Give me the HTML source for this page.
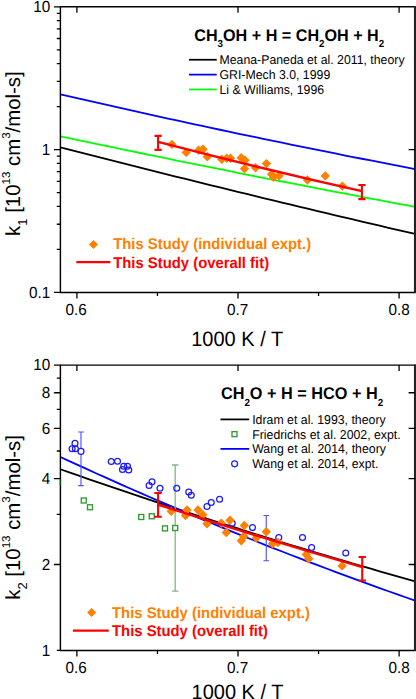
<!DOCTYPE html>
<html><head><meta charset="utf-8"><title>chart</title>
<style>html,body{margin:0;padding:0;background:#fff;}body{width:416px;height:699px;overflow:hidden;font-family:"Liberation Sans",sans-serif;}</style>
</head><body>
<svg width="416" height="699" viewBox="0 0 416 699" style="display:block" text-rendering="geometricPrecision">
<rect width="416" height="699" fill="#fff"/>
<path d="M60.40 94.30L69.27 96.35L78.14 98.39L87.00 100.42L95.87 102.44L104.74 104.45L113.61 106.45L122.47 108.44L131.34 110.43L140.21 112.40L149.08 114.37L157.94 116.32L166.81 118.27L175.68 120.21L184.55 122.13L193.41 124.05L202.28 125.96L211.15 127.86L220.02 129.75L228.88 131.63L237.75 133.51L246.62 135.37L255.49 137.22L264.35 139.07L273.22 140.90L282.09 142.73L290.95 144.55L299.82 146.36L308.69 148.15L317.56 149.94L326.43 151.72L335.29 153.49L344.16 155.26L353.03 157.01L361.89 158.75L370.76 160.49L379.63 162.21L388.50 163.92L397.37 165.63L406.23 167.33L415.10 169.02" stroke="#0000ff" stroke-width="1.8" fill="none"/>
<path d="M60.40 136.30L69.27 138.18L78.14 140.05L87.00 141.92L95.87 143.78L104.74 145.64L113.61 147.49L122.47 149.33L131.34 151.17L140.21 153.00L149.08 154.83L157.94 156.65L166.81 158.46L175.68 160.27L184.55 162.07L193.41 163.87L202.28 165.66L211.15 167.44L220.02 169.22L228.88 170.99L237.75 172.76L246.62 174.52L255.49 176.27L264.35 178.02L273.22 179.76L282.09 181.50L290.95 183.23L299.82 184.95L308.69 186.67L317.56 188.38L326.43 190.09L335.29 191.79L344.16 193.48L353.03 195.17L361.89 196.85L370.76 198.53L379.63 200.20L388.50 201.86L397.37 203.52L406.23 205.17L415.10 206.81" stroke="#00ff00" stroke-width="1.8" fill="none"/>
<path d="M60.40 147.30L69.27 149.58L78.14 151.86L87.00 154.14L95.87 156.40L104.74 158.66L113.61 160.92L122.47 163.16L131.34 165.41L140.21 167.64L149.08 169.87L157.94 172.09L166.81 174.31L175.68 176.52L184.55 178.73L193.41 180.93L202.28 183.12L211.15 185.31L220.02 187.49L228.88 189.66L237.75 191.83L246.62 193.99L255.49 196.15L264.35 198.30L273.22 200.45L282.09 202.58L290.95 204.72L299.82 206.84L308.69 208.96L317.56 211.08L326.43 213.18L335.29 215.28L344.16 217.38L353.03 219.47L361.89 221.55L370.76 223.63L379.63 225.70L388.50 227.77L397.37 229.82L406.23 231.88L415.10 233.92" stroke="#000" stroke-width="1.8" fill="none"/>
<path d="M167.20 144.40L171.90 139.70L176.60 144.40L171.90 149.10Z" fill="#ff8000"/>
<path d="M181.50 152.40L186.20 147.70L190.90 152.40L186.20 157.10Z" fill="#ff8000"/>
<path d="M193.90 150.20L198.60 145.50L203.30 150.20L198.60 154.90Z" fill="#ff8000"/>
<path d="M198.30 149.20L203.00 144.50L207.70 149.20L203.00 153.90Z" fill="#ff8000"/>
<path d="M202.60 156.80L207.30 152.10L212.00 156.80L207.30 161.50Z" fill="#ff8000"/>
<path d="M217.10 159.20L221.80 154.50L226.50 159.20L221.80 163.90Z" fill="#ff8000"/>
<path d="M221.90 158.20L226.60 153.50L231.30 158.20L226.60 162.90Z" fill="#ff8000"/>
<path d="M225.80 158.20L230.50 153.50L235.20 158.20L230.50 162.90Z" fill="#ff8000"/>
<path d="M236.50 157.70L241.20 153.00L245.90 157.70L241.20 162.40Z" fill="#ff8000"/>
<path d="M240.30 160.20L245.00 155.50L249.70 160.20L245.00 164.90Z" fill="#ff8000"/>
<path d="M239.80 168.70L244.50 164.00L249.20 168.70L244.50 173.40Z" fill="#ff8000"/>
<path d="M250.90 167.80L255.60 163.10L260.30 167.80L255.60 172.50Z" fill="#ff8000"/>
<path d="M261.70 163.60L266.40 158.90L271.10 163.60L266.40 168.30Z" fill="#ff8000"/>
<path d="M266.80 174.20L271.50 169.50L276.20 174.20L271.50 178.90Z" fill="#ff8000"/>
<path d="M268.80 177.20L273.50 172.50L278.20 177.20L273.50 181.90Z" fill="#ff8000"/>
<path d="M274.40 175.80L279.10 171.10L283.80 175.80L279.10 180.50Z" fill="#ff8000"/>
<path d="M302.80 180.00L307.50 175.30L312.20 180.00L307.50 184.70Z" fill="#ff8000"/>
<path d="M320.60 175.90L325.30 171.20L330.00 175.90L325.30 180.60Z" fill="#ff8000"/>
<path d="M337.70 186.10L342.40 181.40L347.10 186.10L342.40 190.80Z" fill="#ff8000"/>
<path d="M158.1 141.8Q260 168.3 361.9 191.2" stroke="#ff0000" stroke-width="2.4" fill="none"/>
<path d="M158.10 135.90V149.90M154.50 135.90H161.70M154.50 149.90H161.70" stroke="#ff0000" stroke-width="2.1" fill="none"/>
<path d="M361.90 185.00V199.10M358.30 185.00H365.50M358.30 199.10H365.50" stroke="#ff0000" stroke-width="2.1" fill="none"/>
<path d="M60.4 6.8H415.1V292.4H60.4Z" stroke="#000" stroke-width="1.45" fill="none"/><path d="M414.95 6.1V293.09999999999997" stroke="#222" stroke-width="2.0" fill="none"/><path d="M60.4 6.80h-6.5M60.4 149.60h-6.5M60.4 292.40h-6.5M60.4 106.61h-3.6M60.4 81.47h-3.6M60.4 63.63h-3.6M60.4 49.79h-3.6M60.4 38.48h-3.6M60.4 28.92h-3.6M60.4 20.64h-3.6M60.4 13.33h-3.6M60.4 249.41h-3.6M60.4 224.27h-3.6M60.4 206.43h-3.6M60.4 192.59h-3.6M60.4 181.28h-3.6M60.4 171.72h-3.6M60.4 163.44h-3.6M60.4 156.13h-3.6M415.1 149.60h-6.5M76.90 292.4v6.2M76.90 6.8v6M238.00 292.4v6.2M238.00 6.8v6M399.10 292.4v6.2M399.10 6.8v6M157.45 292.4v3.6M318.55 292.4v3.6" stroke="#000" stroke-width="1.3" fill="none"/>
<text transform="translate(50.2 12.10) scale(1 1.045)" font-family="Liberation Sans, sans-serif" font-size="15.3" text-anchor="end">10</text>
<text transform="translate(50.2 154.90) scale(1 1.045)" font-family="Liberation Sans, sans-serif" font-size="15.3" text-anchor="end">1</text>
<text transform="translate(50.2 297.70) scale(1 1.045)" font-family="Liberation Sans, sans-serif" font-size="15.3" text-anchor="end">0.1</text>
<text transform="translate(76.20 314.8) scale(1 1.045)" font-family="Liberation Sans, sans-serif" font-size="15.3" text-anchor="middle">0.6</text><text transform="translate(237.60 314.8) scale(1 1.045)" font-family="Liberation Sans, sans-serif" font-size="15.3" text-anchor="middle">0.7</text><text transform="translate(399.00 314.8) scale(1 1.045)" font-family="Liberation Sans, sans-serif" font-size="15.3" text-anchor="middle">0.8</text>
<text transform="translate(237.2 345.9) scale(1 1.045)" font-family="Liberation Sans, sans-serif" font-size="20.0" text-anchor="middle">1000 K / T</text>
<text transform="translate(19.9 153.6) rotate(-90)" font-family="Liberation Sans, sans-serif" font-size="20.4" text-anchor="middle">k<tspan font-size="13" dy="7.3">1</tspan><tspan dy="-7.3"> [10</tspan><tspan font-size="11.5" dy="-10.3">13</tspan><tspan dy="10.3"> cm</tspan><tspan font-size="11.5" dy="-10.3">3</tspan><tspan dy="10.3">/mol-s]</tspan></text>
<text transform="translate(194.3 40.5) scale(1 1.045)" font-family="Liberation Sans, sans-serif" font-size="16.15" font-weight="bold">CH<tspan font-size="9.8" dy="6">3</tspan><tspan dy="-6">OH + H = CH</tspan><tspan font-size="9.8" dy="6">2</tspan><tspan dy="-6">OH + H</tspan><tspan font-size="9.8" dy="6">2</tspan></text>
<path d="M189 59.75H216.75" stroke="#000" stroke-width="1.75"/>
<text transform="translate(219.5 64.35) scale(1 1.045)" font-family="Liberation Sans, sans-serif" font-size="12.3">Meana-Paneda et al. 2011, theory</text>
<path d="M189 74.62H216.75" stroke="#0000ff" stroke-width="1.75"/>
<text transform="translate(219.5 79.22) scale(1 1.045)" font-family="Liberation Sans, sans-serif" font-size="12.3">GRI-Mech 3.0, 1999</text>
<path d="M189 89.49H216.75" stroke="#00ff00" stroke-width="1.75"/>
<text transform="translate(219.5 94.09) scale(1 1.045)" font-family="Liberation Sans, sans-serif" font-size="12.3">Li &amp; Williams, 1996</text>
<path d="M89.00 244.40L93.50 239.90L98.00 244.40L93.50 248.90Z" fill="#ff8000"/>
<text transform="translate(113.2 249.2) scale(1 1.045)" font-family="Liberation Sans, sans-serif" font-size="14.85" font-weight="bold" fill="#ff8000">This Study (individual expt.)</text>
<path d="M76.3 262.2H110.4" stroke="#ff0000" stroke-width="2.3"/>
<text transform="translate(113.2 267.5) scale(1 1.045)" font-family="Liberation Sans, sans-serif" font-size="14.85" font-weight="bold" fill="#ff0000">This Study (overall fit)</text>
<path d="M60.40 469.25L69.27 472.36L78.14 475.46L87.00 478.54L95.87 481.61L104.74 484.66L113.61 487.69L122.47 490.71L131.34 493.71L140.21 496.69L149.08 499.66L157.94 502.62L166.81 505.55L175.68 508.48L184.55 511.38L193.41 514.27L202.28 517.15L211.15 520.00L220.02 522.85L228.88 525.67L237.75 528.48L246.62 531.28L255.49 534.05L264.35 536.82L273.22 539.56L282.09 542.29L290.95 545.01L299.82 547.71L308.69 550.39L317.56 553.06L326.43 555.71L335.29 558.34L344.16 560.96L353.03 563.56L361.89 566.15L370.76 568.72L379.63 571.28L388.50 573.81L397.37 576.34L406.23 578.85L415.10 581.34" stroke="#000" stroke-width="1.8" fill="none"/>
<path d="M60.40 457.00L69.27 461.09L78.14 465.15L87.00 469.19L95.87 473.20L104.74 477.18L113.61 481.14L122.47 485.08L131.34 488.99L140.21 492.87L149.08 496.73L157.94 500.56L166.81 504.37L175.68 508.15L184.55 511.90L193.41 515.63L202.28 519.34L211.15 523.02L220.02 526.67L228.88 530.30L237.75 533.90L246.62 537.48L255.49 541.03L264.35 544.55L273.22 548.05L282.09 551.53L290.95 554.98L299.82 558.40L308.69 561.80L317.56 565.17L326.43 568.52L335.29 571.84L344.16 575.13L353.03 578.40L361.89 581.65L370.76 584.87L379.63 588.06L388.50 591.23L397.37 594.37L406.23 597.49L415.10 600.58" stroke="#0000ff" stroke-width="1.8" fill="none"/>
<path d="M175.20 465.00V591.20M172.00 465.00H178.40M172.00 591.20H178.40" stroke="#7cbc7c" stroke-width="1.3" fill="none"/>
<rect x="81.25" y="498.00" width="5" height="5" fill="#fff" stroke="#339933" stroke-width="1.35"/>
<rect x="87.50" y="504.75" width="5" height="5" fill="#fff" stroke="#339933" stroke-width="1.35"/>
<rect x="138.75" y="514.50" width="5" height="5" fill="#fff" stroke="#339933" stroke-width="1.35"/>
<rect x="149.25" y="513.75" width="5" height="5" fill="#fff" stroke="#339933" stroke-width="1.35"/>
<rect x="162.50" y="525.90" width="5" height="5" fill="#fff" stroke="#339933" stroke-width="1.35"/>
<rect x="172.70" y="525.50" width="5" height="5" fill="#fff" stroke="#339933" stroke-width="1.35"/>
<path d="M81.00 432.00V485.60M78.20 432.00H83.80M78.20 485.60H83.80" stroke="#5050ff" stroke-width="1.15" fill="none"/>
<path d="M266.25 515.50V560.75M263.45 515.50H269.05M263.45 560.75H269.05" stroke="#5050ff" stroke-width="1.15" fill="none"/>
<circle cx="75.00" cy="443.40" r="2.95" fill="none" stroke="#1a1aff" stroke-width="1.25"/>
<circle cx="72.10" cy="448.70" r="2.95" fill="none" stroke="#1a1aff" stroke-width="1.25"/>
<circle cx="75.40" cy="448.80" r="2.95" fill="none" stroke="#1a1aff" stroke-width="1.25"/>
<circle cx="81.00" cy="451.40" r="2.95" fill="#fff" stroke="#1a1aff" stroke-width="1.25"/>
<circle cx="111.25" cy="461.50" r="2.95" fill="none" stroke="#1a1aff" stroke-width="1.25"/>
<circle cx="117.50" cy="461.25" r="2.95" fill="none" stroke="#1a1aff" stroke-width="1.25"/>
<circle cx="123.75" cy="466.25" r="2.95" fill="none" stroke="#1a1aff" stroke-width="1.25"/>
<circle cx="127.50" cy="466.25" r="2.95" fill="none" stroke="#1a1aff" stroke-width="1.25"/>
<circle cx="122.50" cy="469.50" r="2.95" fill="none" stroke="#1a1aff" stroke-width="1.25"/>
<circle cx="128.75" cy="470.00" r="2.95" fill="none" stroke="#1a1aff" stroke-width="1.25"/>
<circle cx="152.00" cy="481.75" r="2.95" fill="none" stroke="#1a1aff" stroke-width="1.25"/>
<circle cx="149.10" cy="485.50" r="2.95" fill="none" stroke="#1a1aff" stroke-width="1.25"/>
<circle cx="160.00" cy="488.25" r="2.95" fill="none" stroke="#1a1aff" stroke-width="1.25"/>
<circle cx="176.75" cy="488.25" r="2.95" fill="none" stroke="#1a1aff" stroke-width="1.25"/>
<circle cx="188.75" cy="492.00" r="2.95" fill="none" stroke="#1a1aff" stroke-width="1.25"/>
<circle cx="191.25" cy="495.25" r="2.95" fill="none" stroke="#1a1aff" stroke-width="1.25"/>
<circle cx="219.60" cy="499.25" r="2.95" fill="none" stroke="#1a1aff" stroke-width="1.25"/>
<circle cx="211.25" cy="502.50" r="2.95" fill="none" stroke="#1a1aff" stroke-width="1.25"/>
<circle cx="207.00" cy="506.50" r="2.95" fill="none" stroke="#1a1aff" stroke-width="1.25"/>
<circle cx="232.20" cy="523.20" r="2.95" fill="none" stroke="#1a1aff" stroke-width="1.25"/>
<circle cx="252.50" cy="527.50" r="2.95" fill="none" stroke="#1a1aff" stroke-width="1.25"/>
<circle cx="278.75" cy="537.50" r="2.95" fill="none" stroke="#1a1aff" stroke-width="1.25"/>
<circle cx="302.50" cy="537.50" r="2.95" fill="none" stroke="#1a1aff" stroke-width="1.25"/>
<circle cx="311.60" cy="547.50" r="2.95" fill="none" stroke="#1a1aff" stroke-width="1.25"/>
<circle cx="345.75" cy="553.00" r="2.95" fill="none" stroke="#1a1aff" stroke-width="1.25"/>
<path d="M166.55 511.25L171.25 506.55L175.95 511.25L171.25 515.95Z" fill="#ff8000"/>
<path d="M182.30 510.00L187.00 505.30L191.70 510.00L187.00 514.70Z" fill="#ff8000"/>
<path d="M180.80 515.50L185.50 510.80L190.20 515.50L185.50 520.20Z" fill="#ff8000"/>
<path d="M193.30 510.00L198.00 505.30L202.70 510.00L198.00 514.70Z" fill="#ff8000"/>
<path d="M198.10 514.70L202.80 510.00L207.50 514.70L202.80 519.40Z" fill="#ff8000"/>
<path d="M202.30 523.75L207.00 519.05L211.70 523.75L207.00 528.45Z" fill="#ff8000"/>
<path d="M216.55 523.10L221.25 518.40L225.95 523.10L221.25 527.80Z" fill="#ff8000"/>
<path d="M225.30 520.30L230.00 515.60L234.70 520.30L230.00 525.00Z" fill="#ff8000"/>
<path d="M221.55 532.50L226.25 527.80L230.95 532.50L226.25 537.20Z" fill="#ff8000"/>
<path d="M239.55 525.50L244.25 520.80L248.95 525.50L244.25 530.20Z" fill="#ff8000"/>
<path d="M239.05 536.25L243.75 531.55L248.45 536.25L243.75 540.95Z" fill="#ff8000"/>
<path d="M236.55 540.70L241.25 536.00L245.95 540.70L241.25 545.40Z" fill="#ff8000"/>
<path d="M251.55 538.00L256.25 533.30L260.95 538.00L256.25 542.70Z" fill="#ff8000"/>
<path d="M261.55 531.75L266.25 527.05L270.95 531.75L266.25 536.45Z" fill="#ff8000"/>
<path d="M267.80 543.75L272.50 539.05L277.20 543.75L272.50 548.45Z" fill="#ff8000"/>
<path d="M273.30 542.50L278.00 537.80L282.70 542.50L278.00 547.20Z" fill="#ff8000"/>
<path d="M301.55 554.50L306.25 549.80L310.95 554.50L306.25 559.20Z" fill="#ff8000"/>
<path d="M304.05 558.75L308.75 554.05L313.45 558.75L308.75 563.45Z" fill="#ff8000"/>
<path d="M337.40 565.90L342.10 561.20L346.80 565.90L342.10 570.60Z" fill="#ff8000"/>
<path d="M158 504.5Q260.1 537.5 362.25 567.2" stroke="#ff0000" stroke-width="2.4" fill="none"/>
<path d="M158.10 493.00V516.75M154.40 493.00H161.80M154.40 516.75H161.80" stroke="#ff0000" stroke-width="2.1" fill="none"/>
<path d="M362.25 557.00V580.50M358.55 557.00H365.95M358.55 580.50H365.95" stroke="#ff0000" stroke-width="2.1" fill="none"/>
<path d="M60.4 365.1H415.1V650.4H60.4Z" stroke="#000" stroke-width="1.45" fill="none"/><path d="M414.95 364.40000000000003V651.1" stroke="#222" stroke-width="2.0" fill="none"/><path d="M60.4 365.10h-6.5M60.4 392.75h-6.5M60.4 428.39h-6.5M60.4 478.63h-6.5M60.4 564.52h-6.5M60.4 378.15h-3.6M60.4 409.29h-3.6M60.4 450.98h-3.6M60.4 514.28h-3.6M60.4 650.40h-3.6M415.1 392.75h-6.5M415.1 428.39h-6.5M415.1 478.63h-6.5M415.1 564.52h-6.5M76.90 650.4v6.2M76.90 365.1v6M238.00 650.4v6.2M238.00 365.1v6M399.10 650.4v6.2M399.10 365.1v6M157.45 650.4v3.6M318.55 650.4v3.6" stroke="#000" stroke-width="1.3" fill="none"/>
<path d="M60.45 478.9V485.2" stroke="#0a5a0a" stroke-width="1.3"/>
<text transform="translate(50.2 370.40) scale(1 1.045)" font-family="Liberation Sans, sans-serif" font-size="15.3" text-anchor="end">10</text>
<text transform="translate(50.2 398.05) scale(1 1.045)" font-family="Liberation Sans, sans-serif" font-size="15.3" text-anchor="end">8</text>
<text transform="translate(50.2 433.69) scale(1 1.045)" font-family="Liberation Sans, sans-serif" font-size="15.3" text-anchor="end">6</text>
<text transform="translate(50.2 483.93) scale(1 1.045)" font-family="Liberation Sans, sans-serif" font-size="15.3" text-anchor="end">4</text>
<text transform="translate(50.2 569.82) scale(1 1.045)" font-family="Liberation Sans, sans-serif" font-size="15.3" text-anchor="end">2</text>
<text transform="translate(50.2 655.70) scale(1 1.045)" font-family="Liberation Sans, sans-serif" font-size="15.3" text-anchor="end">1</text>
<text transform="translate(76.20 673.3) scale(1 1.045)" font-family="Liberation Sans, sans-serif" font-size="15.3" text-anchor="middle">0.6</text><text transform="translate(237.60 673.3) scale(1 1.045)" font-family="Liberation Sans, sans-serif" font-size="15.3" text-anchor="middle">0.7</text><text transform="translate(399.00 673.3) scale(1 1.045)" font-family="Liberation Sans, sans-serif" font-size="15.3" text-anchor="middle">0.8</text>
<text transform="translate(237.5 698.9) scale(1 1.045)" font-family="Liberation Sans, sans-serif" font-size="20.0" text-anchor="middle">1000 K / T</text>
<text transform="translate(19.9 517.4) rotate(-90)" font-family="Liberation Sans, sans-serif" font-size="20.4" text-anchor="middle">k<tspan font-size="13" dy="7.3">2</tspan><tspan dy="-7.3"> [10</tspan><tspan font-size="11.5" dy="-10.3">13</tspan><tspan dy="10.3"> cm</tspan><tspan font-size="11.5" dy="-10.3">3</tspan><tspan dy="10.3">/mol-s]</tspan></text>
<text transform="translate(220.9 399.3) scale(1 1.045)" font-family="Liberation Sans, sans-serif" font-size="16.27" font-weight="bold">CH<tspan font-size="9.8" dy="6">2</tspan><tspan dy="-6">O + H = HCO + H</tspan><tspan font-size="9.8" dy="6">2</tspan></text>
<path d="M220.5 419.4H249.25" stroke="#000" stroke-width="1.75"/>
<text transform="translate(252.2 423.90) scale(1 1.045)" font-family="Liberation Sans, sans-serif" font-size="12.32">Idram et al. 1993, theory</text>
<rect x="232.0" y="431.65" width="5" height="5" fill="#fff" stroke="#339933" stroke-width="1.35"/>
<text transform="translate(252.2 438.65) scale(1 1.045)" font-family="Liberation Sans, sans-serif" font-size="12.32">Friedrichs et al. 2002, expt.</text>
<path d="M220.5 448.9H249.25" stroke="#0000ff" stroke-width="1.75"/>
<text transform="translate(252.2 453.40) scale(1 1.045)" font-family="Liberation Sans, sans-serif" font-size="12.32">Wang et al. 2014, theory</text>
<circle cx="234.6" cy="463.84999999999997" r="2.95" fill="none" stroke="#1a1aff" stroke-width="1.25"/>
<text transform="translate(252.2 468.15) scale(1 1.045)" font-family="Liberation Sans, sans-serif" font-size="12.32">Wang et al. 2014, expt.</text>
<path d="M87.10 612.60L91.60 608.10L96.10 612.60L91.60 617.10Z" fill="#ff8000"/>
<text transform="translate(112 618.1) scale(1 1.045)" font-family="Liberation Sans, sans-serif" font-size="14.85" font-weight="bold" fill="#ff8000">This Study (individual expt.)</text>
<path d="M72.9 630.7H108.8" stroke="#ff0000" stroke-width="2.3"/>
<text transform="translate(112 636.3) scale(1 1.045)" font-family="Liberation Sans, sans-serif" font-size="14.85" font-weight="bold" fill="#ff0000">This Study (overall fit)</text>
</svg>
</body></html>
